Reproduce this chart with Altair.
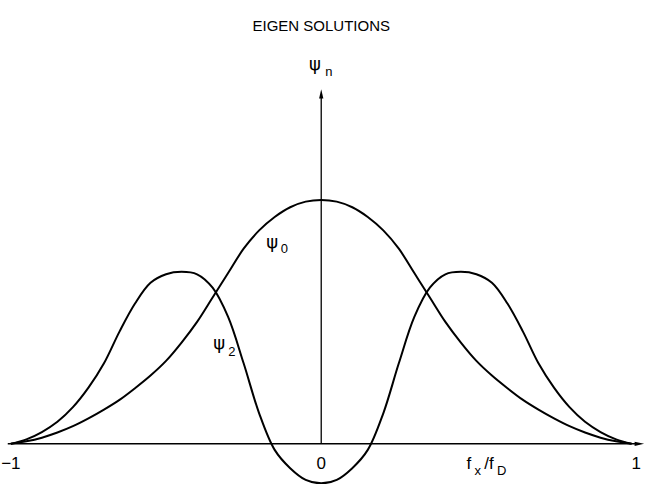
import altair as alt
import pandas as pd

# Normalised frequency f_x / f_D
x_vals = [round(-1.0 + 0.05 * i, 2) for i in range(41)]

# Zeroth-order eigen solution
psi0_vals = [0.000, 0.010, 0.025, 0.046, 0.072, 0.104, 0.140, 0.180, 0.228, 0.280,
             0.340, 0.415, 0.500, 0.600, 0.700, 0.800, 0.875, 0.930, 0.970, 0.993,
             1.000,
             0.993, 0.970, 0.930, 0.875, 0.800, 0.700, 0.600, 0.500, 0.415, 0.340,
             0.280, 0.228, 0.180, 0.140, 0.104, 0.072, 0.046, 0.025, 0.010, 0.000]

# Second-order eigen solution
psi2_vals = [0.000, 0.018, 0.048, 0.090, 0.150, 0.230, 0.330, 0.460, 0.575, 0.660,
             0.695, 0.705, 0.695, 0.640, 0.520, 0.330, 0.125, -0.025, -0.100, -0.148,
             -0.162,
             -0.148, -0.100, -0.025, 0.125, 0.330, 0.520, 0.640, 0.695, 0.705, 0.695,
             0.660, 0.575, 0.460, 0.330, 0.230, 0.150, 0.090, 0.048, 0.018, 0.000]

# Tick labels along the frequency axis
tick_text = ["−1", "0", "1"]
tick_x = [-1.0, 0.0, 1.015]

# Axis name f_x / f_D, written piecewise (main text, then subscripts)
fname_text = ["f", "/f"]
fname_x = [0.468, 0.525]
fsub_text = ["x", "D"]
fsub_x = [0.494, 0.566]

# Curve names: psi glyphs and their subscripts
psi_x = [-0.020, -0.158, -0.329]
psi_y = [1.555, 0.824, 0.408]
psub_text = ["n", "0", "2"]
psub_x = [0.025, -0.119, -0.288]
psub_y = [1.525, 0.798, 0.378]

title_text = "EIGEN SOLUTIONS"

xs = alt.Scale(domain=[-1.035, 1.04], nice=False, zero=False)
ys = alt.Scale(domain=[-0.165, 1.82], nice=False, zero=False)
X = alt.X("x:Q", scale=xs, axis=None)
Y = alt.Y("y:Q", scale=ys, axis=None)

curves = pd.DataFrame({
    "x": x_vals * 2,
    "y": psi0_vals + psi2_vals,
    "curve": ["psi0"] * len(x_vals) + ["psi2"] * len(x_vals),
})

lines = alt.Chart(curves).mark_line(
    color="black", strokeWidth=2, interpolate="catmull-rom", clip=True
).encode(x=X, y=Y, detail="curve:N")

# Horizontal and vertical axes drawn as rules with arrow heads
h_axis = alt.Chart(pd.DataFrame({"x": [-1.01], "x2": [1.025], "y": [0.0]})).mark_rule(
    color="black", strokeWidth=1.3
).encode(x=X, x2="x2:Q", y=Y)

v_axis = alt.Chart(pd.DataFrame({"x": [0.0], "y": [0.0], "y2": [1.43]})).mark_rule(
    color="black", strokeWidth=1.3
).encode(x=X, y=Y, y2="y2:Q")

up_arrow = alt.Chart(pd.DataFrame({"x": [0.0], "y": [1.435]})).mark_point(
    shape="M0,-1L0.45,1L-0.45,1Z", filled=True, color="black", size=90, opacity=1
).encode(x=X, y=Y)

right_arrow = alt.Chart(pd.DataFrame({"x": [1.025], "y": [0.0]})).mark_point(
    shape="M1,0L-1,0.45L-1,-0.45Z", filled=True, color="black", size=90, opacity=1
).encode(x=X, y=Y)

ticks = alt.Chart(pd.DataFrame({"x": tick_x, "y": [-0.085] * 3, "t": tick_text})).mark_text(
    font="Liberation Sans", fontSize=17, color="black", align="center", baseline="middle"
).encode(x=X, y=Y, text="t:N")

fname = alt.Chart(pd.DataFrame({"x": fname_x, "y": [-0.085] * 2, "t": fname_text})).mark_text(
    font="Liberation Sans", fontSize=17, color="black", align="left", baseline="middle"
).encode(x=X, y=Y, text="t:N")

fsub = alt.Chart(pd.DataFrame({"x": fsub_x, "y": [-0.112] * 2, "t": fsub_text})).mark_text(
    font="Liberation Sans", fontSize=13, color="black", align="left", baseline="middle"
).encode(x=X, y=Y, text="t:N")

psi = alt.Chart(pd.DataFrame({"x": psi_x, "y": psi_y, "t": ["ψ"] * 3})).mark_text(
    font="DejaVu Sans", fontSize=18, color="black", align="center", baseline="middle"
).encode(x=X, y=Y, text="t:N")

psub = alt.Chart(pd.DataFrame({"x": psub_x, "y": psub_y, "t": psub_text})).mark_text(
    font="Liberation Sans", fontSize=13, color="black", align="center", baseline="middle"
).encode(x=X, y=Y, text="t:N")

title = alt.Chart(pd.DataFrame({"x": [0.0], "y": [1.715], "t": [title_text]})).mark_text(
    font="Liberation Sans", fontSize=15, color="black", align="center", baseline="middle"
).encode(x=X, y=Y, text="t:N")

chart = alt.layer(
    h_axis, v_axis, up_arrow, right_arrow, lines, ticks, fname, fsub, psi, psub, title
).properties(
    width=645,
    height=484,
    padding=0,
    autosize=alt.AutoSizeParams(type="fit", contains="padding"),
    background="white",
).configure_view(stroke=None)

chart.save("out.html", embed_options={"renderer": "svg", "actions": False})
